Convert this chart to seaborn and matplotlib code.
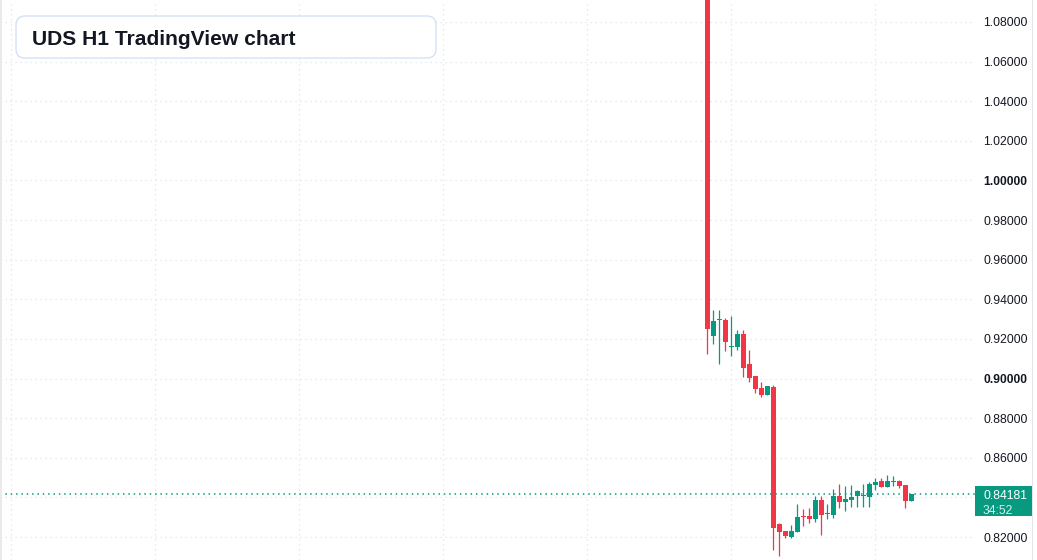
import numpy as np
import matplotlib
matplotlib.use("Agg")
import matplotlib.pyplot as plt
import seaborn as sns
from matplotlib.patches import FancyBboxPatch, Rectangle
from matplotlib.transforms import IdentityTransform

# === Hourly OHLC data (UDS, H1) ===
opens = [1.2500, 0.9216, 0.9294, 0.9296, 0.9160, 0.9161, 0.9225, 0.9073, 0.9013, 0.8952,
         0.8918, 0.8957, 0.8266, 0.8230, 0.8202, 0.8227, 0.8304, 0.8306, 0.8291, 0.8387,
         0.8315, 0.8311, 0.8407, 0.8377, 0.8387, 0.8407, 0.8406, 0.8402, 0.8462, 0.8483,
         0.8452, 0.8477, 0.8483, 0.8463, 0.8382]
highs = [1.2600, 0.9346, 0.9346, 0.9306, 0.9316, 0.9245, 0.9245, 0.9144, 0.9013, 0.8983,
         0.8962, 0.8967, 0.8271, 0.8230, 0.8261, 0.8367, 0.8341, 0.8346, 0.8407, 0.8407,
         0.8367, 0.8442, 0.8468, 0.8457, 0.8462, 0.8437, 0.8468, 0.8478, 0.8498, 0.8498,
         0.8513, 0.8508, 0.8488, 0.8463, 0.8418]
lows = [0.9125, 0.9176, 0.9075, 0.9139, 0.9115, 0.9144, 0.9008, 0.8983, 0.8929, 0.8908,
        0.8918, 0.8134, 0.8106, 0.8197, 0.8197, 0.8227, 0.8256, 0.8271, 0.8276, 0.8210,
        0.8291, 0.8296, 0.8346, 0.8331, 0.8351, 0.8351, 0.8351, 0.8351, 0.8437, 0.8452,
        0.8452, 0.8457, 0.8447, 0.8346, 0.8382]
closes = [0.9250, 0.9291, 0.9297, 0.9186, 0.9162, 0.9225, 0.9055, 0.9004, 0.8949, 0.8918,
          0.8962, 0.8247, 0.8227, 0.8207, 0.8230, 0.8303, 0.8300, 0.8291, 0.8387, 0.8311,
          0.8317, 0.8407, 0.8377, 0.8392, 0.8402, 0.8432, 0.8408, 0.8468, 0.8478, 0.8452,
          0.8483, 0.8478, 0.8457, 0.8382, 0.84181]
last_price = 0.84181
countdown = "34:52"
title = "UDS H1 TradingView chart"

price_ticks = [0.82, 0.84, 0.86, 0.88, 0.90, 0.92, 0.94, 0.96, 0.98, 1.00, 1.02, 1.04, 1.06, 1.08]
day_lines = [-116, -92, -68, -44, -20, 4, 28]   # one vertical grid line per 24 bars

UP = "#089981"
DOWN = "#F23645"
GRID = "#dfe2e8"
TEXT = "#131722"

# === Style ===
sns.set_theme(style="white")
plt.rcParams["font.family"] = ["Liberation Sans", "DejaVu Sans"]

W, H = 1037, 560
fig = plt.figure(figsize=(W / 100, H / 100), dpi=100)
fig.patch.set_facecolor("white")
ax = fig.add_axes([0, 0, 975 / W, 1])
ax.set_facecolor("white")

# === Grid ===
ax.set_xticks(day_lines)
ax.set_yticks(price_ticks)
ax.grid(True, color=GRID, linestyle=(0, (1, 3)), linewidth=0.9)
ax.set_axisbelow(True)
for s in ax.spines.values():
    s.set_visible(False)

# === Candles ===
x = np.arange(len(opens))
o = np.array(opens); c = np.array(closes)
hi = np.array(highs); lo = np.array(lows)
up = c >= o
colors = np.where(up, UP, DOWN)
bottom = np.minimum(o, c)
height = np.maximum(np.abs(c - o), 0.0006)
ax.vlines(x, lo, hi, colors=colors, linewidth=0.9, zorder=2)
ax.bar(x, height, bottom=bottom, width=0.8, color=colors, linewidth=0, zorder=3)

# === Last price line ===
ax.axhline(last_price, color=UP, linestyle=(0, (1, 2.5)), linewidth=1.1, zorder=1)

ax.set_xlim(-117.9, 44.6)
ax.set_ylim(0.8084, 1.0911)

# === Price scale on the right (0.84 is hidden behind the price label) ===
ax.yaxis.tick_right()
ax.set_xticklabels([])
ax.set_yticklabels(["" if abs(v - 0.84) < 1e-9 else f"{v:.5f}" for v in price_ticks])
ax.tick_params(axis="both", length=0)
ax.tick_params(axis="y", pad=5.8, labelsize=8.7, labelcolor=TEXT)
for lab, v in zip(ax.get_yticklabels(), price_ticks):
    if abs(v - 1.00) < 1e-9 or abs(v - 0.90) < 1e-9:
        lab.set_fontweight("bold")

# === Price label ===
px = IdentityTransform()
fig.patches.append(Rectangle((975, H - 516), 57, 30, transform=px, facecolor=UP,
                             edgecolor="none", figure=fig))
fig.text(983, H - 499, f"{last_price:.5f}", transform=px, color="white",
         fontsize=8.7, va="baseline", ha="left")
fig.text(983, H - 514, countdown, transform=px, color="#d8efe9",
         fontsize=8.7, va="baseline", ha="left")

# === Borders ===
fig.patches.append(Rectangle((0, 0), 2, H, transform=px, facecolor="#e9eaec",
                             edgecolor="none", figure=fig))
fig.patches.append(Rectangle((1032, 0), 1, H, transform=px, facecolor="#e3e5ea",
                             edgecolor="none", figure=fig))

# === Title box ===
box = FancyBboxPatch((16, H - 58), 420, 42, boxstyle="round,pad=0,rounding_size=9",
                     transform=px, facecolor="white", edgecolor="#d3e2f6",
                     linewidth=1.0, figure=fig, zorder=5)
fig.patches.append(box)
fig.text(32, H - 45, title, transform=px, color=TEXT, fontsize=15.1,
         fontweight="bold", va="baseline", ha="left", zorder=6)

fig.savefig("out.png", dpi=100)
